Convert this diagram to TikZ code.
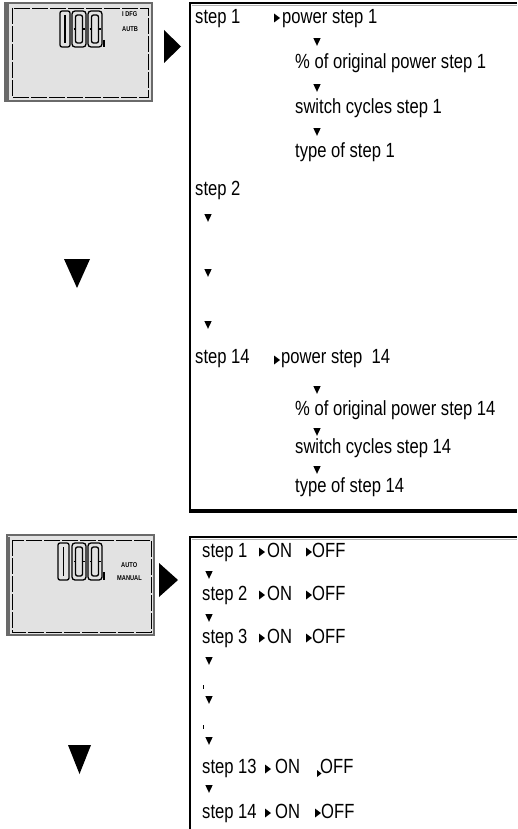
\documentclass[tikz,border=0pt]{standalone}
\usepackage{fontspec}
\setmainfont{Liberation Sans}[FakeStretch=0.81]
\definecolor{lcd}{HTML}{E2E2E2}
\definecolor{lcdedge}{HTML}{6A6A6A}
\newcommand\rtri[2]{\fill (#1-3,#2-4.5) -- (#1-3,#2+4.5) -- (#1+3,#2) -- cycle;}
\newcommand\dtri[2]{\fill (#1-3.6,#2-3.8) -- (#1+3.6,#2-3.8) -- (#1,#2+3.8) -- cycle;}
\newcommand\lcdzero[4]{%
  \draw[digit,rounded corners=3pt] (#1,#2) rectangle ++(#3,#4);
  \draw[digit,rounded corners=2pt] (#1+3.5,#2+4) rectangle ++(#3-7,#4-8);
  \draw[digit] (#1+1.5,#2+#4/2) -- (#1+3.5,#2+#4/2) (#1+#3-3.5,#2+#4/2) -- (#1+#3-1.5,#2+#4/2);}
\newcommand\lcdone[4]{%
  \draw[digit,rounded corners=2pt] (#1,#2) rectangle ++(#3,#4);
  \draw[digit] (#1+#3/2,#2+4) -- (#1+#3/2,#2+#4-4);}
\begin{document}
\begin{tikzpicture}[x=1pt,y=-1pt,
  txt/.style={anchor=west,inner sep=0pt,text height=15pt,text depth=4.3pt,
              font=\fontsize{20.5}{22}\selectfont},
  tiny/.style={anchor=west,inner sep=0pt,font=\fontsize{7}{8}\selectfont\bfseries},
  digit/.style={line width=1.3pt,black},
  lcdbox/.style={fill=lcd,draw=lcdedge,line width=1.3pt},
  inner/.style={draw=black,line width=0.8pt,dash pattern=on 16pt off 2pt}]
\useasboundingbox (0,0) rectangle (517,829);

% ---------- top LCD ----------
\draw[lcdbox] (5,3) rectangle (152,101);
\fill[lcdedge] (5,3) rectangle (9,101);
\draw[inner] (12,8) rectangle (148,97);
\lcdone{60}{11}{10}{36}
\lcdzero{72}{11}{14}{36}
\lcdzero{88}{11}{14}{36}
\draw[digit] (104,40) -- (104,47);
\node[tiny] (t1) at (122,14) {I DFG};
\node[tiny] (t2) at (122,29) {AUTB};
\fill (164,30) -- (164,63) -- (181,46.5) -- cycle;
\fill (64,259) -- (90,259) -- (77,288) -- cycle;

% ---------- top box ----------
\draw[line width=1.8pt] (517,3) -- (190,3) -- (190,512);
\draw[gray!60,line width=1pt] (192,5.2) -- (517,5.2);
\draw[line width=4pt] (189,511) -- (517,511);

\node[txt] (s1) at (195,18) {step 1};
\rtri{277}{18}
\node[txt] (p1) at (282,18) {power step 1};
\dtri{317}{42}
\node[txt] (o1) at (295,63) {\% of original power step 1};
\dtri{317}{88}
\node[txt] (c1) at (295,108) {switch cycles step 1};
\dtri{317}{132}
\node[txt] (y1) at (295,152) {type of step 1};

\node[txt] (s2) at (195,190) {step 2};
\dtri{208}{218}
\dtri{208}{273}
\dtri{208}{325}

\node[txt] (s14) at (195,358) {step 14};
\rtri{277}{360}
\node[txt] (p14) at (281,358) {power step\ \ 14};
\dtri{317}{390}
\node[txt] (o14) at (295,410) {\% of original power step 14};
\dtri{317}{432}
\node[txt] (c14) at (295,448) {switch cycles step 14};
\dtri{317}{470}
\node[txt] (y14) at (295,487) {type of step 14};

% ---------- bottom LCD ----------
\draw[lcdbox] (7,535) rectangle (154,635);
\fill[lcdedge] (6,537) rectangle (10,635);
\draw[inner] (12,540) rectangle (151,632);
\lcdone{58}{543}{11}{37}
\lcdzero{72}{543}{14}{37}
\lcdzero{88}{543}{14}{37}
\draw[digit] (104,572) -- (104,580);
\node[tiny] (a1) at (121,565) {AUTO};
\node[tiny] (a2) at (117,578) {MANUAL};
\fill (159,563) -- (159,597) -- (178,580) -- cycle;
\fill (68,745) -- (91,745) -- (79.5,774) -- cycle;

% ---------- bottom box ----------
\draw[line width=1.8pt] (517,537) -- (190,537) -- (190,829);
\draw[gray!60,line width=1pt] (192,539.2) -- (517,539.2);

\node[txt] (b1) at (202,552) {step 1};
\rtri{262}{552}
\node[txt] (n1) at (267,552) {ON};
\rtri{309}{552}
\node[txt] (f1) at (312,552) {OFF};
\dtri{209}{575}

\node[txt] (b2) at (202,595) {step 2};
\rtri{262}{595}
\node[txt] (n2) at (267,595) {ON};
\rtri{309}{595}
\node[txt] (f2) at (312,595) {OFF};
\dtri{209}{618}

\node[txt] (b3) at (202,638) {step 3};
\rtri{262}{638}
\node[txt] (n3) at (267,638) {ON};
\rtri{309}{638}
\node[txt] (f3) at (312,638) {OFF};
\dtri{209}{661}

\fill (202.5,685) rectangle (203.7,689);
\dtri{209}{700}
\fill (202.5,725) rectangle (203.7,729);
\dtri{209}{741}

\node[txt] (b13) at (202,768) {step 13};
\rtri{268}{769}
\node[txt] (n13) at (275,768) {ON};
\fill (317,770) -- (317,777) -- (321.5,773.5) -- cycle;
\node[txt] (f13) at (320,768) {OFF};
\dtri{209}{789}

\node[txt] (b14) at (202,813) {step 14};
\rtri{268}{813}
\node[txt] (n14) at (275,813) {ON};
\rtri{318}{813}
\node[txt] (f14) at (321,813) {OFF};
\end{tikzpicture}
\end{document}
